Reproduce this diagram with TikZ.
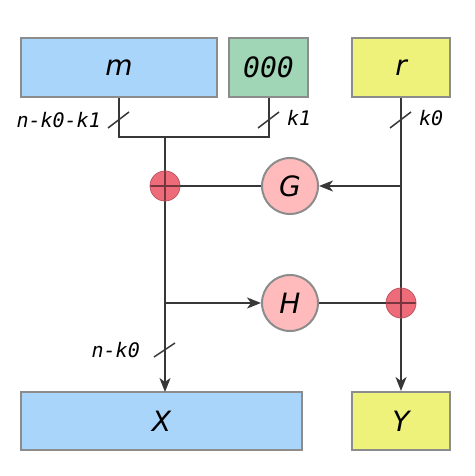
\documentclass[tikz,border=0pt]{standalone}
\usepackage{fontspec}
\setmainfont{DejaVu Sans}
\setmonofont{DejaVu Sans Mono}
\usetikzlibrary{arrows.meta}
\definecolor{cblue}{RGB}{170,213,250}
\definecolor{cgreen}{RGB}{160,214,182}
\definecolor{cyellow}{RGB}{238,242,122}
\definecolor{cpink}{RGB}{255,187,187}
\definecolor{cred}{RGB}{238,108,122}
\definecolor{cborder}{RGB}{140,140,140}
\definecolor{cline}{RGB}{55,55,55}
\tikzset{
  blk/.style={draw=cborder, line width=2pt, minimum height=59pt, inner sep=0pt, font=\fontsize{28}{28}\selectfont\itshape},
  fn/.style={circle, draw=cborder, line width=2pt, fill=cpink, minimum size=56pt, inner sep=0pt, font=\fontsize{28}{28}\selectfont\itshape},
  adder/.style={circle, draw=cred!80!black, line width=0.8pt, fill=cred, minimum size=30pt, inner sep=0pt,
    path picture={\draw[cred!50!black, line width=1.2pt] (path picture bounding box.north) -- (path picture bounding box.south) (path picture bounding box.west) -- (path picture bounding box.east);}},
  wire/.style={draw=cline, line width=1.5pt},
  arr/.style={wire, -{Stealth[length=14pt,width=11pt,inset=4pt]}},
  lbl/.style={font=\fontsize{20}{20}\selectfont\ttfamily\itshape, inner sep=0pt}
}
\begin{document}
\begin{tikzpicture}[x=1pt,y=-1pt]
\useasboundingbox (0,0) rectangle (474,476);
% boxes
\node[blk, fill=cblue, minimum width=196pt] (m) at (119,67.5) {m};
\node[blk, fill=cgreen, minimum width=79pt, font=\fontsize{28}{28}\selectfont\ttfamily\itshape] (z) at (268.5,67.5) {000};
\node[blk, fill=cyellow, minimum width=98pt] (r) at (401,67.5) {r};
\node[blk, fill=cblue, minimum width=281pt, minimum height=58pt] (X) at (161.5,421) {X};
\node[blk, fill=cyellow, minimum width=98pt, minimum height=58pt] (Y) at (401,421) {Y};
% junction coordinates
\coordinate (j1) at (119,137);
\coordinate (j2) at (269,137);
\coordinate (jm) at (165,137);
\coordinate (t1) at (401,186);
\coordinate (t2) at (165,303);
\coordinate (xt) at (165,392);
% wires
\draw[wire] (m.south) -- (j1) -- (j2) -- (z.south -| j2);
\draw[arr] (jm) -- (xt);
\draw[arr] (r.south) -- (Y.north);
\node[fn] (G) at (290,186) {G};
\node[fn] (H) at (290,303) {H};
\draw[arr] (t1) -- (G.east);
\draw[arr] (t2) -- (H.west);
\node[adder] (a1) at (165,186) {};
\node[adder] (a2) at (401,303) {};
\draw[wire] (G.west) -- (a1.east);
\draw[wire] (H.east) -- (a2.west);
% slashes
\draw[wire] (108,128) -- (129,112);
\draw[wire] (258,128) -- (279,112);
\draw[wire] (390,128) -- (411,112);
\draw[wire] (154,357) -- (175,343);
% labels
\node[lbl, anchor=east] (l1) at (101,120) {n-k0-k1};
\node[lbl, anchor=west] (l2) at (287,118) {k1};
\node[lbl, anchor=west] (l3) at (419,118) {k0};
\node[lbl, anchor=east] (l4) at (140,350) {n-k0};
\end{tikzpicture}
\end{document}
